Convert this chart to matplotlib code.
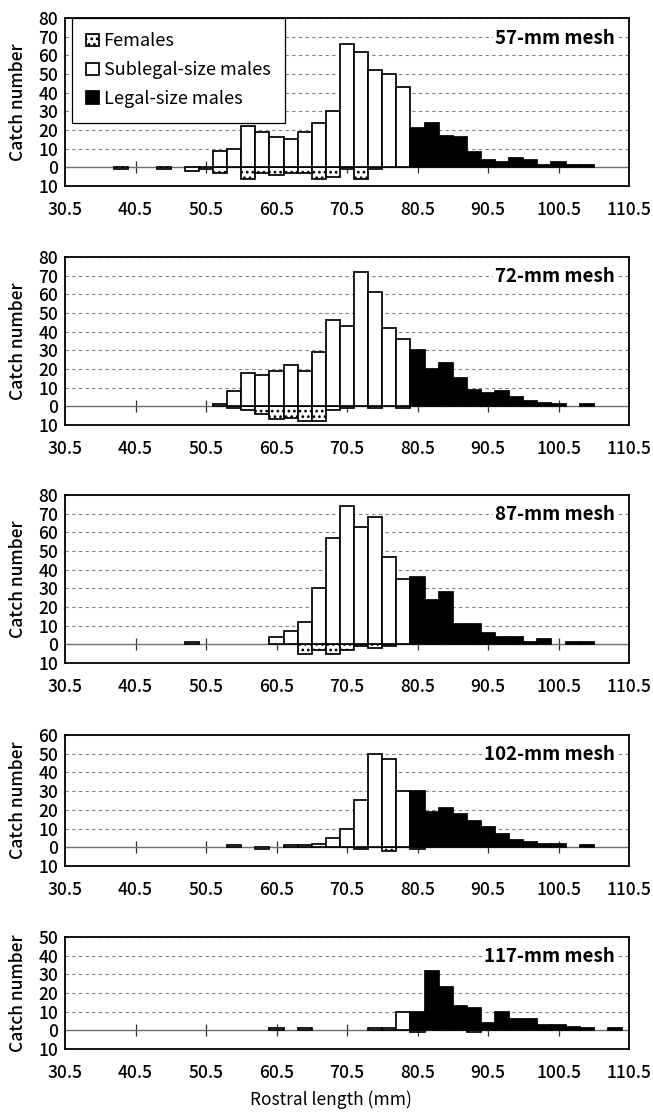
import matplotlib
matplotlib.use("Agg")
import matplotlib.pyplot as plt
from matplotlib.ticker import FuncFormatter
import numpy as np

plt.rcParams['font.family'] = ['Noto Sans CJK JP', 'DejaVu Sans']
plt.rcParams['hatch.linewidth'] = 1.2

# 2-mm rostral length classes (class mid points)
length_classes = [32.5, 34.5, 36.5, 38.5, 40.5, 42.5, 44.5, 46.5, 48.5, 50.5,
                  52.5, 54.5, 56.5, 58.5, 60.5, 62.5, 64.5, 66.5, 68.5, 70.5,
                  72.5, 74.5, 76.5, 78.5, 80.5, 82.5, 84.5, 86.5, 88.5, 90.5,
                  92.5, 94.5, 96.5, 98.5, 100.5, 102.5, 104.5, 106.5, 108.5]
x_ticks = [30.5, 40.5, 50.5, 60.5, 70.5, 80.5, 90.5, 100.5, 110.5]

meshes = ['57-mm mesh', '72-mm mesh', '87-mm mesh', '102-mm mesh', '117-mm mesh']
y_max = [80, 80, 80, 60, 50]

# 57-mm mesh
sub_57 = [0, 0, 0, 0, 0, 0, 0, 0, 0, 0,
          9, 10, 22, 19, 16, 15, 19, 24, 30, 66,
          62, 52, 50, 43, 0, 0, 0, 0, 0, 0,
          0, 0, 0, 0, 0, 0, 0, 0, 0]
legal_57 = [0, 0, 0, 0, 0, 0, 0, 0, 0, 0,
            0, 0, 0, 0, 0, 0, 0, 0, 0, 0,
            0, 0, 0, 0, 21, 24, 17, 16, 8, 4,
            3, 5, 4, 1, 3, 1, 1, 0, 0]
fem_57 = [0, 0, 0, 1, 0, 0, 1, 0, 2, 1,
          3, 0, 6, 3, 4, 3, 3, 6, 5, 1,
          6, 1, 0, 0, 0, 0, 0, 0, 0, 0,
          0, 0, 0, 0, 0, 0, 0, 0, 0]

# 72-mm mesh
sub_72 = [0, 0, 0, 0, 0, 0, 0, 0, 0, 0,
          1, 8, 18, 17, 19, 22, 19, 29, 46, 43,
          72, 61, 42, 36, 0, 0, 0, 0, 0, 0,
          0, 0, 0, 0, 0, 0, 0, 0, 0]
legal_72 = [0, 0, 0, 0, 0, 0, 0, 0, 0, 0,
            0, 0, 0, 0, 0, 0, 0, 0, 0, 0,
            0, 0, 0, 0, 30, 20, 23, 15, 9, 7,
            8, 5, 3, 2, 1, 0, 1, 0, 0]
fem_72 = [0, 0, 0, 0, 0, 0, 0, 0, 0, 0,
          0, 1, 2, 4, 7, 6, 8, 8, 2, 1,
          0, 1, 0, 1, 0, 0, 0, 0, 0, 0,
          0, 0, 0, 0, 0, 0, 0, 0, 0]

# 87-mm mesh
sub_87 = [0, 0, 0, 0, 0, 0, 0, 0, 1, 0,
          0, 0, 0, 0, 4, 7, 12, 30, 57, 74,
          63, 68, 47, 35, 0, 0, 0, 0, 0, 0,
          0, 0, 0, 0, 0, 0, 0, 0, 0]
legal_87 = [0, 0, 0, 0, 0, 0, 0, 0, 0, 0,
            0, 0, 0, 0, 0, 0, 0, 0, 0, 0,
            0, 0, 0, 0, 36, 24, 28, 11, 11, 6,
            4, 4, 1, 3, 0, 1, 1, 0, 0]
fem_87 = [0, 0, 0, 0, 0, 0, 0, 0, 0, 0,
          0, 0, 0, 0, 0, 0, 5, 3, 5, 3,
          1, 2, 1, 0, 0, 0, 0, 0, 0, 0,
          0, 0, 0, 0, 0, 0, 0, 0, 0]

# 102-mm mesh
sub_102 = [0, 0, 0, 0, 0, 0, 0, 0, 0, 0,
           0, 1, 0, 0, 0, 1, 1, 2, 5, 10,
           25, 50, 47, 30, 0, 0, 0, 0, 0, 0,
           0, 0, 0, 0, 0, 0, 0, 0, 0]
legal_102 = [0, 0, 0, 0, 0, 0, 0, 0, 0, 0,
             0, 0, 0, 0, 0, 0, 0, 0, 0, 0,
             0, 0, 0, 0, 30, 19, 21, 18, 14, 11,
             7, 4, 3, 2, 2, 0, 1, 0, 0]
fem_102 = [0, 0, 0, 0, 0, 0, 0, 0, 0, 0,
           0, 0, 0, 1, 0, 0, 0, 0, 0, 0,
           1, 0, 2, 0, 1, 0, 0, 0, 0, 0,
           0, 0, 0, 0, 0, 0, 0, 0, 0]

# 117-mm mesh
sub_117 = [0, 0, 0, 0, 0, 0, 0, 0, 0, 0,
           0, 0, 0, 0, 1, 0, 1, 0, 0, 0,
           0, 1, 1, 10, 0, 0, 0, 0, 0, 0,
           0, 0, 0, 0, 0, 0, 0, 0, 0]
legal_117 = [0, 0, 0, 0, 0, 0, 0, 0, 0, 0,
             0, 0, 0, 0, 0, 0, 0, 0, 0, 0,
             0, 0, 0, 0, 10, 32, 23, 13, 12, 4,
             10, 6, 6, 3, 3, 2, 1, 0, 1]
fem_117 = [0, 0, 0, 0, 0, 0, 0, 0, 0, 0,
           0, 0, 0, 0, 0, 0, 0, 0, 0, 0,
           0, 0, 0, 0, 1, 0, 0, 0, 1, 0,
           0, 0, 0, 0, 0, 0, 0, 0, 0]

panels = [(sub_57, legal_57, fem_57), (sub_72, legal_72, fem_72),
          (sub_87, legal_87, fem_87), (sub_102, legal_102, fem_102),
          (sub_117, legal_117, fem_117)]

W, H = 653, 1115
ax_left, ax_width = 65, 564
boxes = [(18, 186), (257, 425), (495, 663), (735, 866), (937, 1049)]

fig = plt.figure(figsize=(W / 100, H / 100), dpi=100)
x = np.array(length_classes)


def nonzero_bars(ax, counts, sign=1, **kw):
    c = np.array(counts)
    m = c > 0
    return ax.bar(x[m], sign * c[m], width=2, linewidth=1.25, edgecolor='black', zorder=3, **kw)


for i, ((top, bot), (sub, legal, fem)) in enumerate(zip(boxes, panels)):
    ax = fig.add_axes([ax_left / W, 1 - bot / H, ax_width / W, (bot - top) / H])
    ymax = y_max[i]

    b_fem = nonzero_bars(ax, fem, sign=-1, facecolor='white', hatch='...')
    b_sub = nonzero_bars(ax, sub, facecolor='white')
    b_leg = nonzero_bars(ax, legal, facecolor='black')

    ax.set_xlim(30.5, 110.5)
    ax.set_ylim(-10, ymax)
    ax.set_xticks(x_ticks)
    ax.set_xticklabels([f"{t:.1f}" for t in x_ticks])
    ax.set_yticks(range(-10, ymax + 1, 10))
    ax.yaxis.set_major_formatter(FuncFormatter(lambda v, p: f"{abs(v):.0f}"))
    ax.tick_params(axis='x', length=0, pad=11, labelsize=12.5)
    ax.tick_params(axis='y', length=0, pad=5, labelsize=12.5)
    for lab in ax.get_xticklabels() + ax.get_yticklabels():
        lab.set_fontweight('medium')
    ax.grid(axis='y', linestyle=(0, (3, 3)), color='#808080', linewidth=0.8, zorder=0)
    ax.axhline(0, color='#707070', linewidth=1.0, zorder=2)
    for s in ax.spines.values():
        s.set_linewidth(1.3)
        s.set_color('black')

    # cross tick marks sitting on the zero line
    sec = ax.secondary_xaxis(10 / (ymax + 10))
    sec.set_xticks(x_ticks[1:-1])
    sec.xaxis.set_ticks_position('bottom')
    sec.tick_params(direction='inout', length=8, width=0.9, color='#303030',
                    labelbottom=False, labeltop=False)
    sec.spines['bottom'].set_visible(False)
    sec.spines['top'].set_visible(False)

    ax.set_ylabel('Catch number', fontsize=12.5, va='center', fontweight='medium')
    ax.yaxis.set_label_coords(-47 / ax_width, 0.5)

    ax.annotate(meshes[i], xy=(1, 1), xycoords='axes fraction', xytext=(-14, -20),
                textcoords='offset pixels', ha='right', va='center', fontsize=13.5,
                fontweight='bold', zorder=6,
                bbox=dict(facecolor='white', edgecolor='none', pad=1.5))

    if i == 0:
        leg = ax.legend([b_fem, b_sub, b_leg],
                        ['Females', 'Sublegal-size males', 'Legal-size males'],
                        loc='upper left', bbox_to_anchor=(7 / ax_width, 1.0),
                        borderaxespad=0, fontsize=13, handlelength=0.7,
                        handleheight=0.7, handletextpad=0.25, labelspacing=0.6,
                        borderpad=0.8, fancybox=False, framealpha=1, edgecolor='black')
        leg.get_frame().set_linewidth(0.9)
        leg.set_zorder(7)

fig.text(331 / W, 1 - 1100 / H, 'Rostral length (mm)', ha='center', va='center', fontsize=12.5)

fig.savefig('out.png', dpi=100)
